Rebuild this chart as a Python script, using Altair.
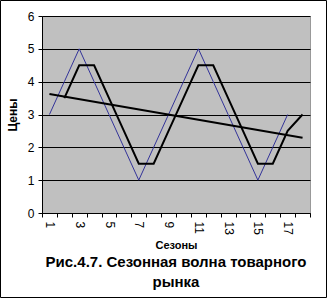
import altair as alt
import pandas as pd

seasons = list(range(1, 19))
wave = [3, 4, 5, 4, 3, 2, 1, 2, 3, 4, 5, 4, 3, 2, 1, 2, 3, None]
smoothed = [None, 3.5, 4.5, 4.5, 3.5, 2.5, 1.5, 1.5, 2.5, 3.5, 4.5, 4.5, 3.5, 2.5, 1.5, 1.5, 2.5, 3]
y_ticks = [0, 1, 2, 3, 4, 5, 6]
x_tick_values = [v / 2 for v in range(1, 38)]  # 0.5 .. 18.5

FONT = "Liberation Sans"

wave_df = pd.DataFrame({"season": seasons, "price": wave}).dropna()
smooth_df = pd.DataFrame({"season": seasons, "price": smoothed}).dropna()

x_scale = alt.Scale(domain=[0.5, 18.5], nice=False, zero=False)
y_scale = alt.Scale(domain=[0, 6], nice=False)

x_axis = alt.Axis(
    title="Сезоны",
    values=x_tick_values,
    labelExpr="(datum.value % 2 == 1) ? toString(datum.value) : ''",
    labelAngle=90,
    labelOverlap=False,
    labelFontSize=12,
    labelFont=FONT,
    labelColor="black",
    labelPadding=4,
    tickOpacity={"expr": "datum.value % 1 == 0 ? 0 : 1"},
    tickColor="black",
    tickSize=4,
    domainColor="black",
    grid=False,
    titleFont=FONT,
    titleFontSize=11,
    titleFontWeight="bold",
    titleColor="black",
    titlePadding=5,
)

y_axis = alt.Axis(
    title="Цены",
    values=y_ticks,
    labelFontSize=12,
    labelFont=FONT,
    labelColor="black",
    labelPadding=4,
    tickColor="black",
    tickSize=4,
    domainColor="black",
    grid=True,
    gridColor="black",
    gridOpacity=1,
    gridWidth=1,
    titleFont=FONT,
    titleFontSize=12,
    titleFontWeight="bold",
    titleColor="black",
    titlePadding=8,
)

X = alt.X("season:Q", scale=x_scale, axis=x_axis)
Y = alt.Y("price:Q", scale=y_scale, axis=y_axis)

blue = alt.Chart(wave_df).mark_line(color="#333399", strokeWidth=1).encode(x=X, y=Y)

black = alt.Chart(smooth_df).mark_line(color="black", strokeWidth=2).encode(x=X, y=Y)

trend = alt.Chart(wave_df).transform_regression(
    "season", "price", extent=[1, 18]
).mark_line(color="black", strokeWidth=2).encode(x=X, y=Y)

frame = alt.Chart(pd.DataFrame({"a": [0]})).mark_rect(
    fillOpacity=0, stroke="black", strokeWidth=1
).encode(
    x=alt.value(-41.5), x2=alt.value(284.5), y=alt.value(-15.5), y2=alt.value(281.5)
)

chart = alt.layer(blue, black, trend, frame).properties(
    width=268,
    height=197,
    padding={"left": 42, "top": 16, "right": 17, "bottom": 85},
    autosize=alt.AutoSizeParams(type="none"),
    background="white",
    title=alt.TitleParams(
        text=["Рис.4.7. Сезонная волна товарного", "рынка"],
        orient="bottom",
        anchor="middle",
        font=FONT,
        fontSize=15,
        fontWeight="bold",
        color="black",
        lineHeight=20,
        offset=2,
        dy=-45,
    ),
).configure_view(
    fill="#c0c0c0", stroke="#999999"
)

chart.save("out.html", embed_options={"renderer": "svg", "actions": False})
